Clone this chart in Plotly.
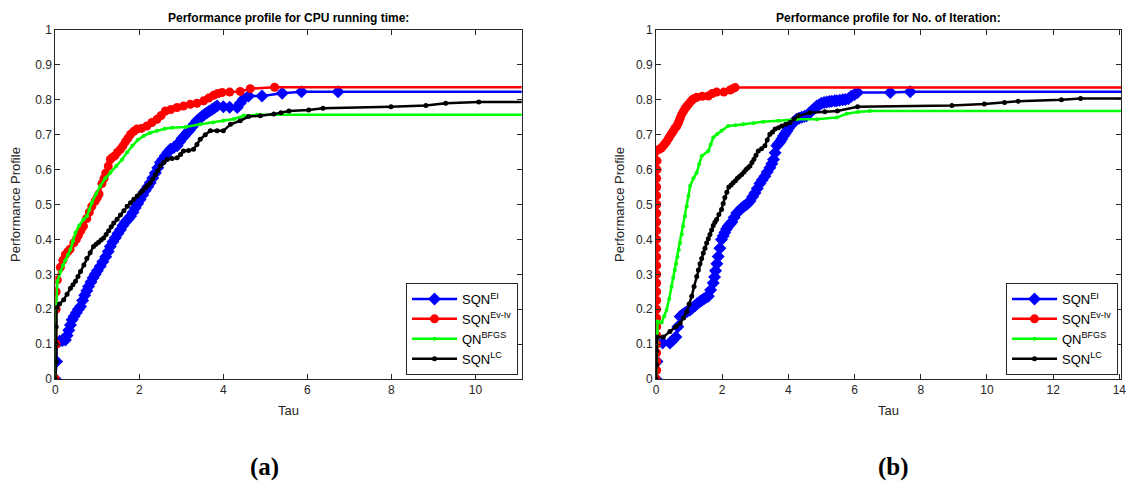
import plotly.graph_objects as go

# ---- (a) CPU running time ----
cpu_ei_tau = [0, 0.03, 0.03, 0.1, 0.17, 0.24, 0.28, 0.32, 0.36, 0.4, 0.45, 0.5, 0.55, 0.6, 0.65, 0.7, 0.75,
              0.79, 0.85, 0.9, 0.95, 1.0, 1.07, 1.13, 1.2, 1.26, 1.31, 1.37, 1.43, 1.49, 1.55, 1.61, 1.67,
              1.73, 1.79, 1.85, 1.9, 1.96, 2.02, 2.08, 2.14, 2.2, 2.26, 2.32, 2.38, 2.44, 2.5, 2.56, 2.62,
              2.68, 2.74, 2.82, 2.9, 2.96, 3.02, 3.08, 3.14, 3.2, 3.25, 3.31, 3.37, 3.43, 3.49, 3.55, 3.61,
              3.67, 3.73, 3.79, 3.85, 4.0, 4.15, 4.33, 4.4, 4.48, 4.6, 4.92, 5.4, 5.86, 6.73, 12]
cpu_ei_rho = [0, 0.05, 0.103, 0.108, 0.11, 0.112, 0.125, 0.14, 0.155, 0.17, 0.18, 0.19, 0.2, 0.208, 0.225,
              0.24, 0.253, 0.265, 0.278, 0.29, 0.3, 0.31, 0.323, 0.336, 0.35, 0.365, 0.38, 0.393, 0.405,
              0.417, 0.428, 0.44, 0.45, 0.458, 0.466, 0.478, 0.49, 0.502, 0.514, 0.527, 0.54, 0.551, 0.562,
              0.576, 0.59, 0.605, 0.62, 0.63, 0.64, 0.65, 0.658, 0.663, 0.668, 0.68, 0.69, 0.698, 0.706,
              0.714, 0.722, 0.731, 0.74, 0.746, 0.752, 0.758, 0.763, 0.768, 0.772, 0.777, 0.782, 0.78,
              0.779, 0.778, 0.79, 0.802, 0.811, 0.811, 0.819, 0.823, 0.823, 0.823]

cpu_ev_tau = [0, 0.02, 0.02, 0.02, 0.05, 0.12, 0.18, 0.24, 0.3, 0.35, 0.44, 0.5, 0.55, 0.61, 0.67, 0.75, 0.81,
              0.87, 0.95, 1.0, 1.04, 1.11, 1.16, 1.2, 1.26, 1.31, 1.36, 1.42, 1.48, 1.55, 1.61, 1.67, 1.73,
              1.79, 1.87, 1.94, 2.05, 2.18, 2.3, 2.42, 2.52, 2.62, 2.75, 2.9, 3.05, 3.21, 3.37, 3.53, 3.65,
              3.77, 3.87, 3.97, 4.15, 4.4, 4.64, 5.22, 12]
cpu_ev_rho = [0, 0.1, 0.2, 0.25, 0.284, 0.32, 0.34, 0.356, 0.365, 0.372, 0.39, 0.4, 0.412, 0.425, 0.438, 0.46,
              0.478, 0.495, 0.51, 0.52, 0.53, 0.56, 0.575, 0.59, 0.61, 0.629, 0.635, 0.64, 0.65, 0.658, 0.668,
              0.68, 0.69, 0.701, 0.71, 0.716, 0.718, 0.725, 0.735, 0.744, 0.755, 0.768, 0.772, 0.778, 0.782,
              0.787, 0.79, 0.797, 0.805, 0.813, 0.818, 0.821, 0.822, 0.824, 0.832, 0.836, 0.836]

cpu_bfgs_tau = [0, 0.02, 0.05, 0.12, 0.18, 0.24, 0.3, 0.36, 0.42, 0.48, 0.57, 0.67, 0.75, 0.81, 0.87, 0.97,
                1.07, 1.19, 1.31, 1.45, 1.59, 1.71, 1.83, 1.96, 2.1, 2.25, 2.42, 2.6, 2.78, 3.1, 3.45, 3.75,
                4.0, 4.25, 4.48, 4.8, 12]
cpu_bfgs_rho = [0, 0.2, 0.28, 0.308, 0.325, 0.34, 0.355, 0.371, 0.395, 0.419, 0.44, 0.457, 0.466, 0.485,
                0.505, 0.53, 0.553, 0.575, 0.591, 0.61, 0.629, 0.65, 0.668, 0.685, 0.696, 0.705, 0.711, 0.717,
                0.72, 0.722, 0.73, 0.735, 0.74, 0.745, 0.754, 0.757, 0.757]

cpu_lc_tau = [0, 0.02, 0.02, 0.02, 0.03, 0.1, 0.2, 0.28, 0.36, 0.42, 0.48, 0.54, 0.6, 0.68, 0.75, 0.83, 0.91,
              0.97, 1.03, 1.09, 1.15, 1.21, 1.27, 1.33, 1.39, 1.47, 1.55, 1.63, 1.71, 1.79, 1.87, 1.95, 2.02,
              2.08, 2.14, 2.2, 2.26, 2.32, 2.38, 2.44, 2.5, 2.58, 2.66, 2.78, 2.9, 2.98, 3.05, 3.17, 3.29,
              3.37, 3.45, 3.57, 3.69, 3.85, 4.0, 4.17, 4.4, 4.6, 4.88, 5.2, 5.37, 5.56, 6.03, 6.37, 7.99, 8.82,
              9.29, 10.08, 12]
cpu_lc_rho = [0, 0.05, 0.1, 0.15, 0.204, 0.215, 0.227, 0.243, 0.26, 0.27, 0.28, 0.294, 0.308, 0.327, 0.345,
              0.362, 0.38, 0.386, 0.392, 0.398, 0.404, 0.414, 0.425, 0.436, 0.447, 0.458, 0.47, 0.482, 0.495,
              0.505, 0.515, 0.524, 0.533, 0.54, 0.548, 0.555, 0.562, 0.573, 0.585, 0.597, 0.61, 0.62, 0.629,
              0.632, 0.634, 0.643, 0.653, 0.655, 0.658, 0.672, 0.687, 0.7, 0.711, 0.711, 0.711, 0.73, 0.74,
              0.752, 0.754, 0.759, 0.763, 0.768, 0.771, 0.776, 0.78, 0.784, 0.79, 0.794, 0.794]

# ---- (b) number of iterations ----
it_ei_tau = [0, 0.03, 0.03, 0.2, 0.42, 0.5, 0.6, 0.66, 0.73, 0.8, 0.88, 0.95, 1.03, 1.1, 1.18, 1.25, 1.33,
             1.39, 1.45, 1.52, 1.58, 1.65, 1.73, 1.77, 1.8, 1.84, 1.88, 1.93, 1.98, 2.03, 2.08, 2.13, 2.18,
             2.24, 2.29, 2.36, 2.44, 2.52, 2.59, 2.66, 2.74, 2.79, 2.84, 2.92, 2.99, 3.06, 3.14, 3.21, 3.29,
             3.36, 3.44, 3.5, 3.55, 3.6, 3.65, 3.7, 3.75, 3.8, 3.85, 3.9, 3.95, 4.0, 4.05, 4.1, 4.15, 4.2,
             4.25, 4.32, 4.4, 4.48, 4.55, 4.62, 4.7, 4.78, 4.86, 4.93, 5.0, 5.08, 5.16, 5.24, 5.31, 5.4,
             5.46, 5.55, 5.64, 5.72, 5.81, 5.9, 6.0, 6.09, 7.08, 7.68, 15]
it_ei_rho = [0, 0.05, 0.103, 0.103, 0.103, 0.11, 0.12, 0.15, 0.179, 0.185, 0.19, 0.194, 0.198, 0.204, 0.21,
             0.216, 0.222, 0.226, 0.23, 0.234, 0.237, 0.255, 0.275, 0.292, 0.31, 0.33, 0.351, 0.375, 0.4,
             0.41, 0.42, 0.43, 0.438, 0.444, 0.45, 0.463, 0.476, 0.483, 0.49, 0.495, 0.5, 0.505, 0.51,
             0.522, 0.533, 0.546, 0.56, 0.57, 0.581, 0.593, 0.605, 0.617, 0.629, 0.648, 0.668, 0.674, 0.68,
             0.688, 0.696, 0.703, 0.71, 0.718, 0.725, 0.73, 0.735, 0.74, 0.744, 0.747, 0.75, 0.752, 0.754,
             0.761, 0.768, 0.775, 0.782, 0.786, 0.79, 0.792, 0.794, 0.795, 0.796, 0.797, 0.797, 0.799, 0.8,
             0.801, 0.803, 0.81, 0.815, 0.821, 0.821, 0.823, 0.823]

it_ev_tau = [0, 0.02, 0.02, 0.02, 0.02, 0.02, 0.02, 0.02, 0.02, 0.02, 0.02, 0.02, 0.02, 0.02, 0.02, 0.02,
             0.02, 0.02, 0.02, 0.02, 0.02, 0.02, 0.02, 0.02, 0.03, 0.03, 0.03, 0.1, 0.16, 0.22, 0.27, 0.32,
             0.37, 0.42, 0.47, 0.52, 0.57, 0.63, 0.67, 0.7, 0.74, 0.78, 0.83, 0.88, 0.93, 0.98, 1.04, 1.1,
             1.16, 1.23, 1.4, 1.58, 1.7, 1.83, 2.05, 2.24, 2.32, 2.39, 15]
it_ev_rho = [0, 0.025, 0.05, 0.075, 0.1, 0.125, 0.15, 0.175, 0.2, 0.225, 0.25, 0.275, 0.3, 0.325, 0.35,
             0.375, 0.4, 0.425, 0.45, 0.475, 0.5, 0.525, 0.55, 0.575, 0.6, 0.625, 0.655, 0.658, 0.662, 0.668,
             0.674, 0.68, 0.688, 0.696, 0.703, 0.71, 0.718, 0.725, 0.733, 0.74, 0.75, 0.759, 0.767, 0.775,
             0.781, 0.787, 0.794, 0.8, 0.804, 0.807, 0.81, 0.811, 0.818, 0.822, 0.822, 0.828, 0.832, 0.835,
             0.835]

it_bfgs_tau = [0, 0.03, 0.05, 0.17, 0.25, 0.32, 0.4, 0.47, 0.52, 0.57, 0.61, 0.65, 0.69, 0.73, 0.78, 0.82,
               0.88, 0.93, 0.98, 1.03, 1.13, 1.23, 1.3, 1.38, 1.58, 1.65, 1.73, 1.85, 1.98, 2.18, 2.4, 2.64,
               2.95, 3.24, 3.7, 4.25, 4.86, 5.46, 5.76, 6.1, 6.46, 15]
it_bfgs_rho = [0, 0.12, 0.165, 0.162, 0.18, 0.198, 0.23, 0.265, 0.29, 0.313, 0.33, 0.35, 0.37, 0.39, 0.415,
               0.438, 0.467, 0.495, 0.524, 0.553, 0.575, 0.591, 0.615, 0.639, 0.653, 0.672, 0.692, 0.702,
               0.711, 0.725, 0.727, 0.73, 0.733, 0.737, 0.74, 0.744, 0.744, 0.749, 0.76, 0.765, 0.768, 0.768]

it_lc_tau = [0, 0.02, 0.02, 0.03, 0.22, 0.42, 0.6, 0.73, 0.83, 0.93, 1.0, 1.08, 1.15, 1.23, 1.28, 1.33, 1.38,
             1.43, 1.48, 1.53, 1.58, 1.63, 1.68, 1.73, 1.78, 1.83, 1.9, 1.98, 2.03, 2.08, 2.14, 2.2, 2.27,
             2.33, 2.4, 2.46, 2.52, 2.59, 2.66, 2.72, 2.78, 2.84, 2.9, 2.96, 3.02, 3.09, 3.19, 3.29, 3.36,
             3.44, 3.52, 3.6, 3.7, 3.8, 3.92, 4.05, 4.17, 4.3, 4.65, 5.1, 5.48, 6.09, 8.94, 9.92, 10.53,
             10.94, 12.25, 12.83, 15]
it_lc_rho = [0, 0.04, 0.08, 0.12, 0.12, 0.136, 0.15, 0.16, 0.175, 0.193, 0.215, 0.237, 0.265, 0.294, 0.312,
             0.33, 0.345, 0.361, 0.375, 0.39, 0.402, 0.414, 0.427, 0.44, 0.449, 0.457, 0.471, 0.486, 0.503,
             0.52, 0.535, 0.55, 0.556, 0.562, 0.568, 0.575, 0.58, 0.586, 0.593, 0.6, 0.605, 0.61, 0.62,
             0.63, 0.641, 0.653, 0.66, 0.668, 0.685, 0.701, 0.708, 0.716, 0.72, 0.725, 0.73, 0.735, 0.745,
             0.754, 0.763, 0.766, 0.768, 0.78, 0.784, 0.788, 0.792, 0.796, 0.8, 0.804, 0.804]

names = ["SQN<sup>EI</sup>", "SQN<sup>Ev-Iv</sup>", "QN<sup>BFGS</sup>", "SQN<sup>LC</sup>"]
colors = ["#0000FF", "#FF0000", "#00FF00", "#000000"]
symbols = ["diamond", "circle", "circle", "circle"]
sizes = [10, 9, 4, 5]

cpu = [(cpu_ei_tau, cpu_ei_rho), (cpu_ev_tau, cpu_ev_rho), (cpu_bfgs_tau, cpu_bfgs_rho), (cpu_lc_tau, cpu_lc_rho)]
itr = [(it_ei_tau, it_ei_rho), (it_ev_tau, it_ev_rho), (it_bfgs_tau, it_bfgs_rho), (it_lc_tau, it_lc_rho)]

fig = go.Figure()
for i in range(4):
    fig.add_trace(go.Scatter(x=cpu[i][0], y=cpu[i][1], mode="lines+markers", name=names[i],
                             line=dict(color=colors[i], width=2.5),
                             marker=dict(symbol=symbols[i], size=sizes[i], color=colors[i]),
                             xaxis="x", yaxis="y", legend="legend"))
for i in range(4):
    fig.add_trace(go.Scatter(x=itr[i][0], y=itr[i][1], mode="lines+markers", name=names[i],
                             line=dict(color=colors[i], width=2.5),
                             marker=dict(symbol=symbols[i], size=sizes[i], color=colors[i]),
                             xaxis="x2", yaxis="y2", legend="legend2"))

ax = dict(showline=True, mirror="ticks", linecolor="#262626", linewidth=1, ticks="inside", ticklen=5,
          tickcolor="#262626", showgrid=False, zeroline=False, automargin=False,
          tickfont=dict(family="Liberation Sans", size=12, color="#262626"))
ydom = [105 / 484, 454 / 484]
leg = dict(y=109 / 484, xanchor="right", yanchor="bottom", bordercolor="#262626", borderwidth=1,
           bgcolor="white", itemwidth=45, font=dict(size=13, color="#000000"))

fig.update_layout(
    width=1129, height=484, margin=dict(l=0, r=0, t=0, b=0, autoexpand=False),
    paper_bgcolor="white", plot_bgcolor="white",
    font=dict(family="Liberation Sans", size=11, color="#262626"),
    xaxis=dict(ax, domain=[55.3 / 1129, 521.7 / 1129], range=[0, 11.1], tickvals=[0, 2, 4, 6, 8, 10], anchor="y"),
    yaxis=dict(ax, domain=ydom, range=[0, 1], tickvals=[i / 10 for i in range(11)], anchor="x"),
    xaxis2=dict(ax, domain=[656 / 1129, 1121 / 1129], range=[0, 14.05], tickvals=list(range(0, 15, 2)),
                anchor="y2"),
    yaxis2=dict(ax, domain=ydom, range=[0, 1], tickvals=[i / 10 for i in range(11)], anchor="x2"),
    legend=dict(leg, x=518 / 1129),
    legend2=dict(leg, x=1118 / 1129),
)

ann = []
for cx, title, lx, labx, lab in [(288.5, "Performance profile for CPU running time:", 15, 264, "(a)"),
                                 (888.5, "Performance profile for No. of Iteration:", 619, 893, "(b)")]:
    base = dict(showarrow=False, xref="paper", yref="paper", xanchor="center", yanchor="middle")
    ann.append(dict(base, x=cx / 1129, y=1 - 18 / 484, text="<b>" + title + "</b>",
                    font=dict(size=12, color="#000000")))
    ann.append(dict(base, x=cx / 1129, y=1 - 410 / 484, text="Tau", font=dict(size=13, color="#262626")))
    ann.append(dict(base, x=lx / 1129, y=1 - 205 / 484, text="Performance Profile", textangle=-90,
                    font=dict(size=13, color="#262626")))
    ann.append(dict(base, x=labx / 1129, y=1 - 467 / 484, text="<b>" + lab + "</b>",
                    font=dict(family="Liberation Serif", size=25, color="#000000")))
fig.update_layout(annotations=ann)

# the page's default body margin would shift the figure by 8px
fig.write_html("out.html", config={"displayModeBar": False},
               post_script="document.body.style.margin='0px';")
